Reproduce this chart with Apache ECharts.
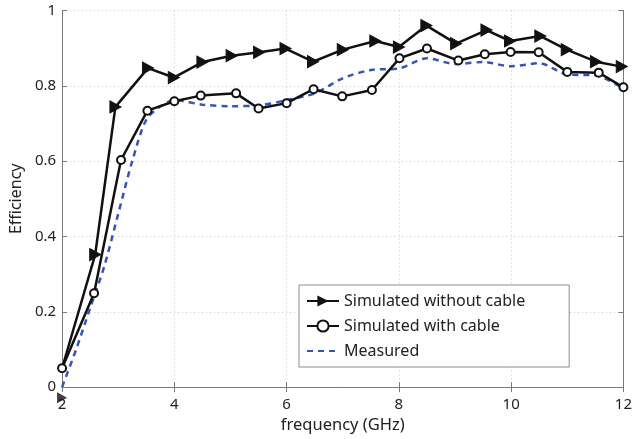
<!DOCTYPE html>
<html><head><meta charset="utf-8">
<script src="https://cdn.jsdelivr.net/npm/echarts@6/dist/echarts.min.js"></script>
<style>html,body{margin:0;padding:0;background:#fff}#c{width:635px;height:439px}</style>
</head><body><div id="c"></div>
<script>
const xNoCable = [2, 2.59, 2.95, 3.53, 3.99, 4.5, 5.02, 5.51, 5.98, 6.47, 7.0, 7.58, 8.0, 8.49, 9.02, 9.56, 9.98, 10.52, 10.99, 11.51, 11.97];
const yNoCable = [0.05, 0.352, 0.744, 0.847, 0.822, 0.863, 0.88, 0.889, 0.899, 0.864, 0.896, 0.919, 0.903, 0.96, 0.912, 0.948, 0.919, 0.932, 0.896, 0.864, 0.851];
const xCable = [2, 2.57, 3.05, 3.52, 4.0, 4.47, 5.1, 5.5, 6.0, 6.48, 6.99, 7.52, 8.01, 8.5, 9.06, 9.53, 9.99, 10.49, 11.0, 11.56, 12];
const yCable = [0.05, 0.249, 0.603, 0.734, 0.759, 0.774, 0.78, 0.74, 0.754, 0.791, 0.772, 0.789, 0.873, 0.899, 0.867, 0.884, 0.89, 0.889, 0.837, 0.835, 0.796];
const xMeas = [2, 2.25, 2.5, 2.75, 3, 3.25, 3.5, 3.75, 4, 4.5, 5, 5.5, 6, 6.5, 7, 7.5, 8, 8.5, 9, 9.5, 10, 10.5, 11, 11.5, 12];
const yMeas = [0.0, 0.10, 0.21, 0.32, 0.46, 0.60, 0.71, 0.745, 0.762, 0.75, 0.746, 0.748, 0.762, 0.78, 0.82, 0.842, 0.846, 0.873, 0.858, 0.863, 0.852, 0.86, 0.83, 0.828, 0.792];
const strayMarker = [[2, -0.028]];
const names = ['Simulated without cable', 'Simulated with cable', 'Measured'];

const pair = (xs, ys) => xs.map((x, i) => [x, ys[i]]);
const font = 'Noto Sans';
const txt = '#222';
const axisGray = '#7a7a7a';
const grid = {lineStyle: {color: '#c8c8c8', type: [1, 3], width: 1}};

const noCableData = pair(xNoCable, yNoCable).map((p, i) => i === 0 ? {value: p, symbol: 'none'} : p);

const chart = echarts.init(document.getElementById('c'));
chart.setOption({
  animation: false,
  grid: {left: 60, right: 11, top: 10.5, bottom: 44, containLabel: false},
  legend: {
    orient: 'vertical', left: 299, top: 285,
    padding: [8, 44, 8, 7], itemWidth: 32, itemHeight: 14, itemGap: 9,
    borderColor: '#8c8c8c', borderWidth: 1, backgroundColor: '#fff',
    textStyle: {fontFamily: font, fontSize: 16, color: txt},
    data: [names[0], names[1], {name: names[2], itemStyle: {opacity: 0}}]
  },
  xAxis: [{
    type: 'value', min: 2, max: 12, interval: 2,
    name: 'frequency (GHz)', nameLocation: 'middle', nameGap: 24,
    nameTextStyle: {fontFamily: font, fontSize: 16.5, color: txt},
    axisLine: {lineStyle: {color: axisGray, width: 1}},
    axisTick: {inside: true, length: 5, lineStyle: {color: axisGray}},
    axisLabel: {fontFamily: font, fontSize: 15, color: txt, margin: 10},
    splitLine: {show: true, ...grid}
  }, {
    type: 'value', min: 2, max: 12, interval: 2, position: 'top',
    axisLine: {show: true, lineStyle: {color: axisGray, width: 1}},
    axisTick: {show: true, inside: true, length: 5, lineStyle: {color: axisGray}},
    axisLabel: {show: false}, splitLine: {show: false}
  }],
  yAxis: [{
    type: 'value', min: 0, max: 1, interval: 0.2,
    name: 'Efficiency', nameLocation: 'middle', nameGap: 34,
    nameTextStyle: {fontFamily: font, fontSize: 16, color: txt},
    axisLine: {show: true, lineStyle: {color: axisGray, width: 1}},
    axisTick: {show: true, inside: true, length: 5, lineStyle: {color: axisGray}},
    axisLabel: {fontFamily: font, fontSize: 15, color: txt, margin: 6},
    splitLine: {show: true, ...grid}
  }, {
    type: 'value', min: 0, max: 1, interval: 0.2, position: 'right',
    axisLine: {show: true, lineStyle: {color: axisGray, width: 1}},
    axisTick: {show: true, inside: true, length: 5, lineStyle: {color: axisGray}},
    axisLabel: {show: false}, splitLine: {show: false}
  }],
  series: [{
    name: names[0], type: 'line', data: noCableData,
    symbol: 'triangle', symbolRotate: -90, symbolSize: [12, 11],
    lineStyle: {color: '#111', width: 2.5}, itemStyle: {color: '#111', borderColor: '#111'},
    z: 3
  }, {
    name: names[1], type: 'line', data: pair(xCable, yCable),
    symbol: 'circle', symbolSize: 8, showSymbol: true,
    lineStyle: {color: '#111', width: 2.5},
    itemStyle: {color: '#fff', borderColor: '#111', borderWidth: 2},
    z: 4
  }, {
    name: names[2], type: 'line', data: pair(xMeas, yMeas),
    symbol: 'none', smooth: 0.3,
    lineStyle: {color: '#3355b5', width: 2.5, type: [6, 5]},
    itemStyle: {color: '#3355b5'}, z: 2
  }, {
    type: 'scatter', data: strayMarker, clip: false, silent: true,
    symbol: 'triangle', symbolRotate: -90, symbolSize: [11, 10],
    itemStyle: {color: '#111'}, z: 5
  }]
});
</script></body></html>
